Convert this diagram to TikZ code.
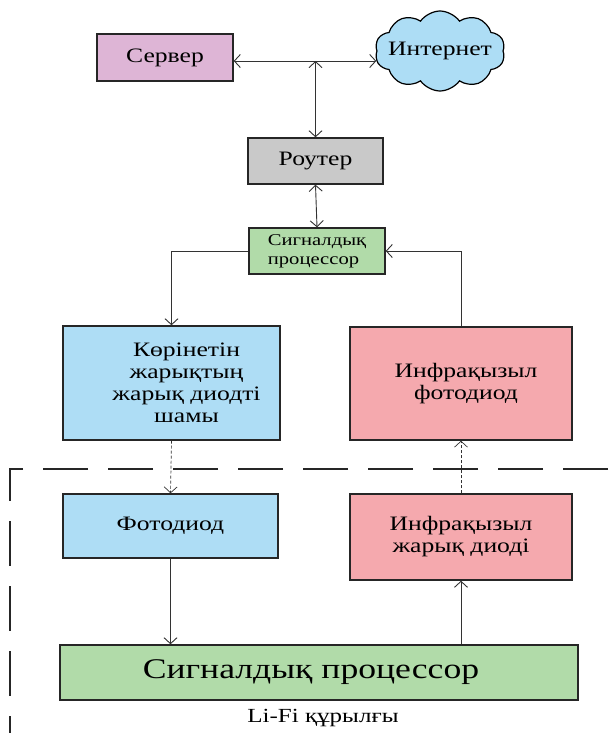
\documentclass[tikz,border=0pt]{standalone}
\usepackage{fontspec}
\setmainfont{Liberation Serif}[FakeStretch=1.25]
\usetikzlibrary{arrows.meta,shapes.symbols}
\definecolor{cserver}{HTML}{DEB5D6}
\definecolor{ccloud}{HTML}{ADDDF5}
\definecolor{crouter}{HTML}{C9C9C9}
\definecolor{cgreen}{HTML}{B1DBA9}
\definecolor{cblue}{HTML}{AEDDF5}
\definecolor{cpink}{HTML}{F5A9AE}
\definecolor{cline}{HTML}{333333}
\begin{document}
\begin{tikzpicture}[x=1pt,y=-1pt,
  box/.style={draw=black!85,line width=1.4pt,inner sep=2pt,align=center,font=\fontsize{20.5}{22}\selectfont},
  conn/.style={draw=cline,line width=0.9pt,-{Straight Barb[length=6pt,width=13pt]}},
  conn2/.style={draw=cline,line width=0.9pt,{Straight Barb[length=6pt,width=13pt]}-{Straight Barb[length=6pt,width=13pt]}},
  dconn/.style={conn,densely dashed,line width=0.7pt},
  frame/.style={draw=black!85,line width=1.4pt,dash pattern=on 45pt off 20pt}]
\useasboundingbox (0,0) rectangle (608,733);
% nodes
\node[box,fill=cserver,minimum width=136pt,minimum height=47pt] (server) at (165,57.5) {Сервер};
\node[cloud,cloud puffs=10,cloud puff arc=110,aspect=1.6,draw=black,line width=1.2pt,fill=ccloud,minimum width=130pt,minimum height=80pt,inner sep=0pt,font=\fontsize{20.5}{22}\selectfont] (cloud) at (440,51) {\makebox[50pt]{Интернет}};
\node[box,fill=crouter,minimum width=135pt,minimum height=46pt] (router) at (315.5,161) {Роутер};
\node[box,fill=cgreen,minimum width=136pt,minimum height=46pt,font=\fontsize{16.5}{19}\selectfont,align=left] (sp) at (317,251) {Сигналдық\\процессор\hspace*{0pt}};
\node[box,fill=cblue,minimum width=217pt,minimum height=114pt] (vis) at (171.5,383) {\hspace*{30pt}Көрінетін\\\hspace*{30pt}жарықтың\\\hspace*{30pt}жарық диодті\\\hspace*{30pt}шамы};
\node[box,fill=cpink,minimum width=222pt,minimum height=113pt] (irpd) at (461,383.5) {\hspace*{10pt}Инфрақызыл\\\hspace*{10pt}фотодиод};
\node[box,fill=cblue,minimum width=215pt,minimum height=64pt] (pd) at (170.5,526) {Фотодиод};
\node[box,fill=cpink,minimum width=222pt,minimum height=86pt] (irled) at (461,537) {Инфрақызыл\\жарық диоді};
\node[box,fill=cgreen,minimum width=518pt,minimum height=55pt,font=\fontsize{28.5}{32}\selectfont] (bigsp) at (319,672.5) {Сигналдық процессор\hspace*{16pt}};
\node[font=\fontsize{20}{22}\selectfont] (lifi) at (323,718) {Li-Fi құрылғы};
% dashed frame
\coordinate (f1) at (608,469);
\coordinate (f2) at (10,469);
\coordinate (f3) at (10,733);
\draw[frame] (f1) -- (f2) -- (f3);
% connectors
\coordinate (J) at (router.north |- 0,61);
\draw[conn2] (server.east |- J) -- (cloud.west |- J);
\draw[conn2] (router.north) -- (J);
\draw[conn2] (router.south) -- (sp.north);
\draw[conn] (sp.west) -- (vis.north |- sp.west) -- (vis.north);
\draw[conn] (irpd.north) -- (irpd.north |- sp.east) -- (sp.east);
\draw[dconn] (vis.south) -- (pd.north);
\draw[dconn] (irled.north) -- (irpd.south);
\draw[conn] (pd.south) -- (pd.south |- bigsp.north);
\draw[conn] (irled.south |- bigsp.north) -- (irled.south);
\end{tikzpicture}
\end{document}
